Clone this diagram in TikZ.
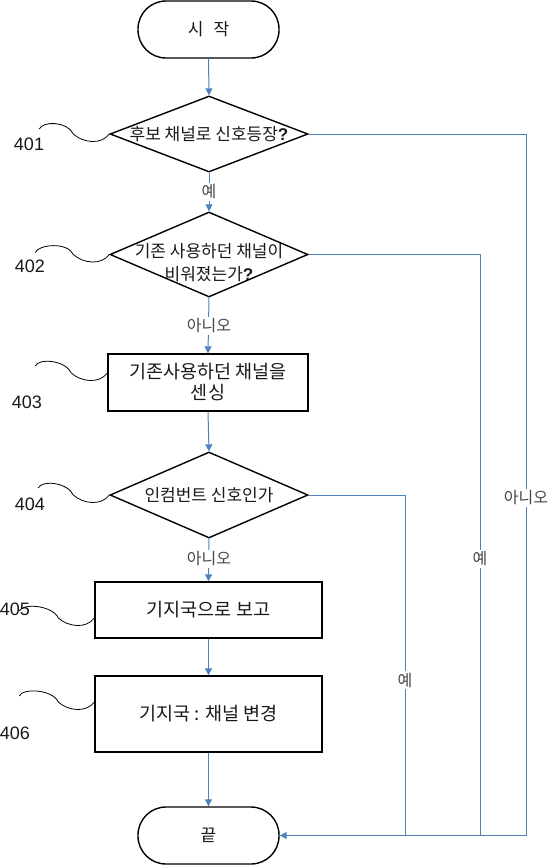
\documentclass[tikz,border=0pt]{standalone}
\usepackage{fontspec}
\setmainfont{Liberation Sans}
\newfontfamily\kr{Noto Sans CJK KR}
\usetikzlibrary{shapes.geometric,arrows.meta}
\definecolor{lineblue}{RGB}{79,129,189}
\definecolor{txt}{RGB}{25,25,25}
\definecolor{lbltxt}{RGB}{70,70,70}
\begin{document}
\begin{tikzpicture}[x=1pt,y=-1pt,
  shapeline/.style={draw=black, line width=1.4pt},
  term/.style={shapeline, rounded corners=28pt, minimum width=141pt, minimum height=57pt, inner sep=0pt, text=txt, font=\kr\fontsize{17}{20}\selectfont},
  dec/.style={shapeline, diamond, inner sep=0pt},
  dtext/.style={align=center, text=txt, font=\kr\fontsize{17}{23}\selectfont},
  proc/.style={shapeline, rectangle, inner sep=0pt, align=center, text=txt, font=\kr\fontsize{18.5}{21}\selectfont},
  conn/.style={draw=lineblue, line width=1pt},
  arr/.style={conn, -{Triangle[length=7pt,width=7pt]}},
  lbl/.style={fill=white, inner sep=1.5pt, text=lbltxt, font=\kr\fontsize{16}{18}\selectfont},
  num/.style={inner sep=0pt, text=txt, font=\fontsize{18}{20}\selectfont},
  lead/.style={draw=black, line width=0.8pt}
]
\useasboundingbox (0,0) rectangle (550,865);

% shapes
\node[term] (start) at (208.5,29.5) {시\hspace{0.6em}작};
\node[dec, minimum width=198pt, minimum height=76pt] (d1) at (209,134) {};
\node[dtext] (t1) at (d1) {후보 채널로 신호등장{\rmfamily\bfseries ?}};
\node[dec, minimum width=198pt, minimum height=85pt] (d2) at (209,254.5) {};
\node[dtext] (t2) at (209,263) {기존 사용하던 채널이\\비워졌는가{\rmfamily\bfseries ?}};
\node[proc, minimum width=200pt, minimum height=57pt] (b3) at (208,382.5) {기존사용하던 채널을\\센싱};
\node[dec, minimum width=198pt, minimum height=86pt] (d4) at (209,495) {};
\node[dtext] (t4) at (d4) {인컴번트 신호인가};
\node[proc, minimum width=227pt, minimum height=56pt] (b5) at (208.5,610) {기지국으로 보고};
\node[proc, minimum width=227pt, minimum height=76pt] (b6) at (208.5,714) {기지국 : 채널 변경};
\node[term] (end) at (208.5,835.5) {끝};

% main flow
\draw[arr] (start.south) -- (d1.north);
\draw[arr] (d1.south) -- (d2.north);
\draw[arr] (d2.south) -- (b3.north);
\draw[arr] (b3.south) -- (d4.north);
\draw[arr] (d4.south) -- (b5.north);
\draw[arr] (b5.south) -- (b6.north);
\draw[arr] (b6.south) -- (end.north);

% right side connectors
\coordinate (c1) at (526,835.5);
\coordinate (c2) at (480,835.5);
\coordinate (c4) at (405,835.5);
\draw[conn] (d2.east) -| (c2);
\draw[conn] (d4.east) -| (c4);
\draw[arr] (d1.east) -| (c1) -- (end.east);

% connector labels
\node[lbl] (l1) at (209,192) {예};
\node[lbl] (l2) at (209,326) {아니오};
\node[lbl] (l4) at (209,559) {아니오};
\node[lbl] (r1) at (526,498) {아니오};
\node[lbl] (r2) at (480,559) {예};
\node[lbl] (r4) at (405,680) {예};

% reference numbers
\node[num] (n401) at (29,144) {401};
\node[num] (n402) at (30,266) {402};
\node[num] (n403) at (27,402) {403};
\node[num] (n404) at (30,504) {404};
\node[num] (n405) at (15,609) {405};
\node[num] (n406) at (15,733) {406};

% wavy leaders
\draw[lead] (d1.west) .. controls +(-8,11) and +(10,9) .. ++(-36,0) .. controls +(-6,-13) and +(3,-8) .. ++(-34,-5);
\draw[lead] (d2.west) .. controls +(-8,11) and +(10,9) .. ++(-36,0) .. controls +(-6,-13) and +(3,-8) .. ++(-38,-2);
\draw[lead] ([yshift=9.5pt]b3.west) .. controls +(-8,11) and +(10,9) .. ++(-36,0) .. controls +(-6,-13) and +(3,-8) .. ++(-36,-7);
\draw[lead] (d4.west) .. controls +(-8,11) and +(10,9) .. ++(-36,0) .. controls +(-6,-13) and +(3,-8) .. ++(-35,-7);
\draw[lead] ([yshift=-8pt]b5.west) .. controls +(-8,11) and +(10,9) .. ++(-36,0) .. controls +(-6,-13) and +(3,-8) .. ++(-39,-7);
\draw[lead] ([yshift=12pt]b6.west) .. controls +(-8,11) and +(10,9) .. ++(-36,0) .. controls +(-6,-13) and +(3,-8) .. ++(-39,-6);
\end{tikzpicture}
\end{document}
